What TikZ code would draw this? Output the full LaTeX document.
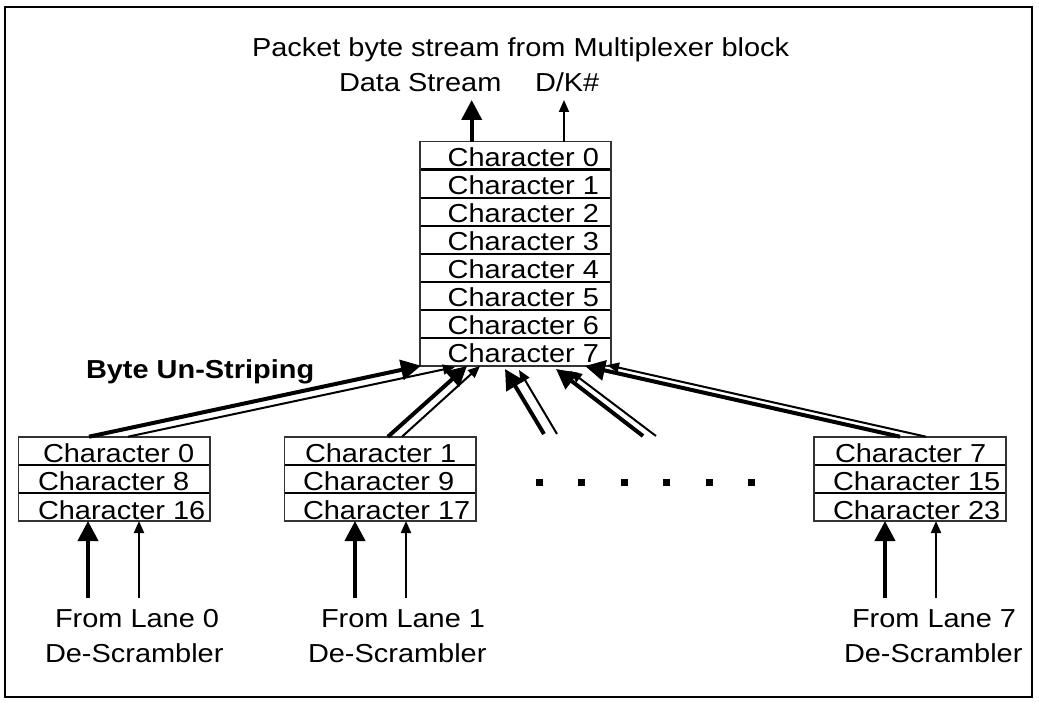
\documentclass[tikz,border=0pt]{standalone}
\usepackage{fontspec}
\setmainfont{Liberation Sans}[FakeStretch=1.113]
\usetikzlibrary{arrows.meta,calc}
\begin{document}
\begin{tikzpicture}[x=1pt,y=-1pt,
  every node/.style={inner sep=0pt, outer sep=0pt},
  rowbox/.style={rectangle, minimum height=28.1pt, anchor=north west},
  lbl/.style={anchor=base west, font=\fontsize{26}{28}\selectfont},
  outline/.style={draw=black!80, line width=1.6pt},
  sep/.style={draw=black, line width=2.6pt},
  thickarr/.style={line width=4pt, -{Triangle[length=20pt,width=20pt]}},
  thinarr/.style={line width=2pt, -{Triangle[length=12pt,width=10pt]}},
  dotsq/.style={fill=black, minimum size=7pt, rectangle}]
\useasboundingbox (0,0) rectangle (1039,706);
\fill[white] (0,0) rectangle (1039,706);
\draw[line width=1.5pt] (5,7) rectangle (1032,697);

% top block
\foreach \i in {0,...,7}{
  \node[rowbox, minimum width=191pt] (T\i) at (420,{141.7+28*\i}) {};
  \node[lbl] (TL\i) at ($(T\i.south west)+(27.7,-3)$) {Character \i};
}
\foreach \i in {0,...,6}{\draw[sep] (T\i.south west) -- (T\i.south east);}
\draw[outline] (T0.north west) rectangle (T7.south east);

% lower blocks
\foreach \n/\x/\w/\a/\b/\c/\xa/\xb/\xc in {A/18.3/191.7/0/8/16/24.7/19.7/19.7, B/284.3/191.7/1/9/17/20.7/18.7/18.7, C/814/192/7/15/23/21/19/19}{
  \node[rowbox, minimum width=\w pt] (\n0) at (\x,436.7) {};
  \node[rowbox, minimum width=\w pt] (\n1) at (\x,464.8) {};
  \node[rowbox, minimum width=\w pt] (\n2) at (\x,492.9) {};
  \node[lbl] (\n L0) at ($(\n0.south west)+(\xa,-2)$) {Character \a};
  \node[lbl] (\n L1) at ($(\n1.south west)+(\xb,-2)$) {Character \b};
  \node[lbl] (\n L2) at ($(\n2.south west)+(\xc,-2)$) {Character \c};
  \draw[sep] (\n0.south west) -- (\n0.south east);
  \draw[sep] (\n1.south west) -- (\n1.south east);
  \draw[outline] (\n0.north west) rectangle (\n2.south east);
}

% titles
\node[lbl] (title) at (252,57) {Packet byte stream from Multiplexer block};
\node[lbl] (ds) at (339,91.7) {Data Stream};
\node[lbl] (dk) at (535,91.7) {D/K\#};
\node[anchor=base west, font=\fontsize{26}{28}\selectfont\bfseries] (bus) at (86,378) {Byte Un-Striping};

% output arrows
\coordinate (dsTip) at (471.7,100);
\coordinate (dkTip) at (564,100);
\draw[thickarr] (T0.north -| dsTip) -- (dsTip);
\draw[thinarr] (T0.north -| dkTip) -- (dkTip);

% converging arrows
\coordinate (p1a) at (421,365.7);
\coordinate (p1b) at (455,367);
\coordinate (p2a) at (467,366);
\coordinate (p2b) at (480,366);
\coordinate (p3a) at (505,369);
\coordinate (p3b) at (519,370);
\coordinate (p4a) at (556,369);
\coordinate (p4b) at (570,371);
\coordinate (p5a) at (585,366);
\coordinate (p5b) at (607,365);
\coordinate (s3a) at (544,434);
\coordinate (s3b) at (557,434);
\coordinate (s4a) at (643,436);
\coordinate (s4b) at (656,436);
\draw[thickarr] ($(A0.north west)+(70.7,0)$) -- (p1a);
\draw[thinarr] ($(A0.north west)+(109.7,0)$) -- (p1b);
\draw[thickarr] ($(B0.north west)+(103.7,0)$) -- (p2a);
\draw[thinarr] ($(B0.north west)+(117.7,0)$) -- (p2b);
\draw[thickarr] (s3a) -- (p3a);
\draw[thinarr] (s3b) -- (p3b);
\draw[thickarr] (s4a) -- (p4a);
\draw[thinarr] (s4b) -- (p4b);
\draw[thickarr] ($(C0.north west)+(86,0)$) -- (p5a);
\draw[thinarr] ($(C0.north west)+(112,0)$) -- (p5b);

% dots
\foreach \x [count=\k] in {539,581,624,666,709,751}{
  \node[dotsq] (dot\k) at (\x,482) {};
}

% input arrows
\foreach \n/\xa/\xb/\l in {A/88/139/0, B/355/406/1, C/885/936/7}{
  \coordinate (\n in1) at (\xa,598);
  \coordinate (\n in2) at (\xb,598);
  \draw[thickarr] (\n in1) -- (\n in1 |- \n2.south);
  \draw[thinarr] (\n in2) -- (\n in2 |- \n2.south);
}
\node[lbl] (fl0) at (55,627) {From Lane 0};
\node[lbl] (ds0) at (45,662) {De-Scrambler};
\node[lbl] (fl1) at (321,627) {From Lane 1};
\node[lbl] (ds1) at (308,662) {De-Scrambler};
\node[lbl] (fl7) at (852,627) {From Lane 7};
\node[lbl] (ds7) at (844,662) {De-Scrambler};
\end{tikzpicture}
\end{document}
